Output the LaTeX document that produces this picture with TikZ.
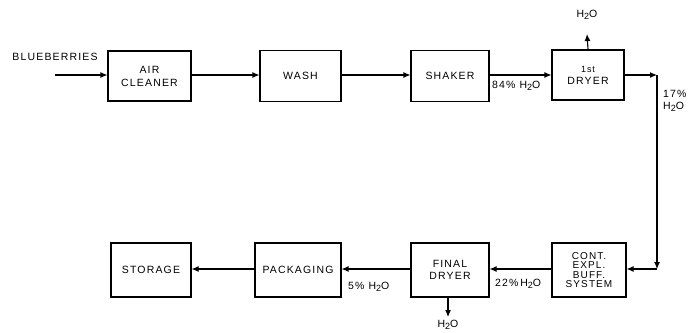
\documentclass[tikz,border=0pt]{standalone}
\usepackage{fontspec}
\usetikzlibrary{arrows.meta}
\newfontfamily\flowfont{Liberation Sans}[LetterSpace=11]
\newcommand{\hTwoO}{H\raisebox{-0.35ex}{\small 2}O}

\begin{document}
\begin{tikzpicture}[x=1pt,y=-1pt,
  unit/.style={draw, line width=1.1pt, inner sep=0pt, align=center,
    font=\flowfont\fontsize{10.5}{11}\selectfont},
  tag/.style={inner sep=0pt, font=\flowfont\fontsize{10.5}{11}\selectfont},
  flow/.style={line width=1.1pt, -{Latex[length=7pt,width=6pt]}}]
\useasboundingbox (0,0) rectangle (692,332);
% top row
\node[unit, minimum width=83pt, minimum height=50pt] (air) at (149.5,76) {AIR\\[2pt]CLEANER};
\node[unit, minimum width=81pt, minimum height=51pt] (wash) at (300.5,76) {WASH};
\node[unit, minimum width=78pt, minimum height=51pt] (shaker) at (450,76) {SHAKER};
\node[unit, minimum width=72pt, minimum height=50pt] (dryerone) at (588,75) {{\fontsize{9}{10}\selectfont 1st}\\[1pt]DRYER};
% bottom row
\node[unit, minimum width=74pt, minimum height=54pt, font=\flowfont\fontsize{10}{9.5}\selectfont] (buff) at (589,270) {CONT.\\EXPL.\\BUFF.\\SYSTEM};
\node[unit, minimum width=78pt, minimum height=54pt] (final) at (450,270) {FINAL\\[1pt]DRYER};
\node[unit, minimum width=86pt, minimum height=54pt] (pack) at (298,270) {PACKAGING};
\node[unit, minimum width=80pt, minimum height=54pt] (store) at (151,270) {STORAGE};
% labels
\node[tag] (berries) at (55,57) {BLUEBERRIES};
\node[tag, anchor=west] (wet) at (492,86) {84\% \hTwoO};
\node[tag, align=left, anchor=west] (mid) at (663,101) {17\%\\[1pt]\hTwoO};
\node[tag, anchor=west] (damp) at (495,284) {22\%\,\hTwoO};
\node[tag, anchor=west] (dry) at (348,287) {5\% \hTwoO};
\node[tag] (steamup) at (587,15) {\hTwoO};
\node[tag] (steamdown) at (448,325) {\hTwoO};
% connectors
\coordinate (feed) at (55,75);
\coordinate (turn) at (657,75);
\coordinate (drop) at (657,269);
\draw[flow] (feed) -- (air.west |- feed);
\draw[flow] (air.east |- feed) -- (wash.west |- feed);
\draw[flow] (wash.east |- feed) -- (shaker.west |- feed);
\draw[flow] (shaker.east |- feed) -- (dryerone.west |- feed);
\draw[flow] (dryerone.east |- feed) -- (turn);
\draw[flow] (turn) -- (drop);
\draw[flow] (drop) -- (buff.east |- drop);
\draw[flow] (buff.west |- drop) -- (final.east |- drop);
\draw[flow] (final.west |- drop) -- (pack.east |- drop);
\draw[flow] (pack.west |- drop) -- (store.east |- drop);
\draw[flow] (dryerone.north) -- (steamup.south |- 0,34);
\draw[flow] (final.south -| steamdown) -- (steamdown.north |- 0,317);
\end{tikzpicture}
\end{document}
